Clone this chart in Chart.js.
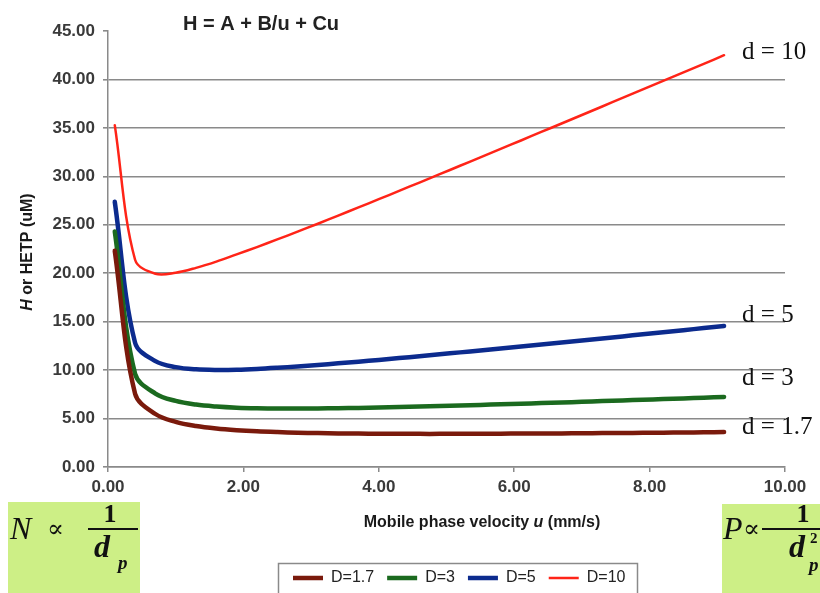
<!DOCTYPE html>
<html><head><meta charset="utf-8">
<script src="https://cdn.jsdelivr.net/npm/chart.js@4.4.0/dist/chart.umd.min.js"></script>
<style>html,body{margin:0;padding:0;background:#fff;}canvas{display:block;}</style>
</head><body>
<canvas id="c" width="820" height="593"></canvas>
<script>
// ---- data ----
const velocity = [0.1,0.4,0.7,1.0,1.3,1.6,1.9,2.2,2.5,2.8,3.1,3.4,3.7,4.0,4.3,4.6,4.9,5.2,5.5,5.8,6.1,6.4,6.7,7.0,7.3,7.6,7.9,8.2,8.5,8.8,9.1];
const seriesNames = ['D=1.7','D=3','D=5','D=10'];
const hD17 = [22.31,7.56,5.47,4.66,4.23,3.97,3.80,3.68,3.60,3.54,3.50,3.47,3.45,3.44,3.43,3.42,3.42,3.43,3.43,3.44,3.45,3.46,3.47,3.48,3.50,3.51,3.53,3.54,3.56,3.58,3.60];
const hD3 = [24.31,9.61,7.58,6.82,6.44,6.24,6.12,6.06,6.04,6.03,6.04,6.07,6.10,6.14,6.19,6.24,6.29,6.35,6.41,6.47,6.53,6.60,6.66,6.73,6.80,6.87,6.94,7.01,7.08,7.15,7.23];
const hD5 = [27.37,12.82,10.93,10.31,10.08,10.02,10.04,10.12,10.24,10.38,10.53,10.70,10.87,11.05,11.24,11.43,11.63,11.83,12.03,12.23,12.44,12.64,12.85,13.06,13.27,13.48,13.70,13.91,14.12,14.34,14.55];
const hD10 = [35.28,21.39,19.95,20.05,20.55,21.20,21.95,22.70,23.49,24.29,25.11,25.95,26.79,27.64,28.50,29.36,30.22,31.09,31.96,32.83,33.70,34.58,35.45,36.33,37.21,38.09,38.97,39.85,40.73,41.61,42.50];
const xTicks = [0,2,4,6,8,10];
const yTicks = [0,5,10,15,20,25,30,35,40,45];
const curveLabels = ['d = 1.7','d = 3','d = 5','d = 10'];
const curveLabelY = [4.1, 9.1, 15.6, 42.8];
const chartTitle = 'H = A + B/u + Cu';

const colors = ['#7a1a0c','#1b6a1f','#0c2b8e','#ff2418'];
const widths = [4.5,4.5,4.5,2.5];
const allSeries = [hD17,hD3,hD5,hD10];

const SANS = '"Liberation Sans", Arial, sans-serif';
const SERIF = '"Liberation Serif", "DejaVu Serif", "Times New Roman", serif';

const decor = {
  id: 'decor',
  beforeDraw(chart) {
    const lg = chart.legend;
    if (lg && !lg._shifted) {
      const pad = lg.options.labels.padding;
      const start = (lg.left + pad + lg.right - lg.lineWidths[0]) / 2;
      const dx = 293 - start;
      lg.left += dx; lg.right += dx;
      lg.top += 3; lg.bottom += 3;
      lg._shifted = true;
    }
  },
  afterDraw(chart) {
    const ctx = chart.ctx;
    const xs = chart.scales.x, ys = chart.scales.y;
    ctx.save();
    // title
    ctx.fillStyle = '#222';
    ctx.font = 'bold 20px ' + SANS;
    ctx.textAlign = 'center'; ctx.textBaseline = 'middle';
    ctx.fillText(chartTitle, 261, 24);

    // x title with italic u
    const parts = [['Mobile phase velocity ', 'bold'], ['u', 'italic bold'], [' (mm/s)', 'bold']];
    drawRich(ctx, parts, 16, 482, 523);

    // y title rotated
    ctx.save();
    ctx.translate(28, 252);
    ctx.rotate(-Math.PI / 2);
    drawRich(ctx, [['H', 'italic bold'], [' or HETP (uM)', 'bold']], 16, 0, 0);
    ctx.restore();

    // curve labels
    ctx.fillStyle = '#111';
    ctx.font = '25px ' + SERIF;
    ctx.textAlign = 'left'; ctx.textBaseline = 'middle';
    const xr = xs.getPixelForValue(velocity[velocity.length - 1]) + 18;
    curveLabels.forEach((t, i) => ctx.fillText(t, xr, ys.getPixelForValue(curveLabelY[i])));

    // legend frame
    ctx.strokeStyle = '#8a8a8a'; ctx.lineWidth = 1.5;
    ctx.strokeRect(278.5, 563.5, 359, 40);

    // formula boxes
    ctx.fillStyle = '#cdef86';
    ctx.fillRect(8, 502, 132, 95);
    ctx.fillRect(722, 504, 100, 95);
    ctx.fillStyle = '#111';
    ctx.textBaseline = 'alphabetic'; ctx.textAlign = 'left';
    // left: N ∝ 1/d_p
    ctx.font = 'italic 32px ' + SERIF; ctx.fillText('N', 10, 539);
    ctx.font = '25px ' + SERIF; ctx.fillText('\u221D', 47, 537);
    ctx.font = 'bold 26px ' + SERIF; ctx.textAlign = 'center'; ctx.fillText('1', 110, 522);
    ctx.fillRect(88, 528, 50, 2);
    ctx.textAlign = 'left';
    ctx.font = 'italic bold 32px ' + SERIF; ctx.fillText('d', 94, 557);
    ctx.font = 'italic bold 19px ' + SERIF; ctx.fillText('p', 118, 569);
    // right: P ∝ 1/d_p^2
    ctx.font = 'italic 32px ' + SERIF; ctx.fillText('P', 723, 539);
    ctx.font = '25px ' + SERIF; ctx.fillText('\u221D', 743, 537);
    ctx.font = 'bold 26px ' + SERIF; ctx.textAlign = 'center'; ctx.fillText('1', 803, 522);
    ctx.fillRect(762, 528, 60, 2);
    ctx.textAlign = 'left';
    ctx.font = 'italic bold 32px ' + SERIF; ctx.fillText('d', 789, 557);
    ctx.font = 'bold 15px ' + SERIF; ctx.fillText('2', 810, 543);
    ctx.font = 'italic bold 19px ' + SERIF; ctx.fillText('p', 809, 571);
    ctx.restore();
  }
};

function drawRich(ctx, parts, size, cx, cy) {
  let total = 0;
  parts.forEach(p => { ctx.font = p[1] + ' ' + size + 'px ' + SANS; total += ctx.measureText(p[0]).width; });
  let x = cx - total / 2;
  ctx.textAlign = 'left'; ctx.textBaseline = 'middle'; ctx.fillStyle = '#1a1a1a';
  parts.forEach(p => { ctx.font = p[1] + ' ' + size + 'px ' + SANS; ctx.fillText(p[0], x, cy); x += ctx.measureText(p[0]).width; });
}

new Chart(document.getElementById('c'), {
  type: 'line',
  data: {
    datasets: allSeries.map((s, i) => ({
      label: seriesNames[i],
      data: velocity.map((u, j) => ({x: u, y: s[j]})),
      borderColor: colors[i],
      backgroundColor: colors[i],
      borderWidth: widths[i],
      borderJoinStyle: 'round',
      borderCapStyle: 'round',
      pointRadius: 0,
      tension: 0.35,
      fill: false
    }))
  },
  options: {
    responsive: false,
    animation: false,
    devicePixelRatio: 1,
    layout: {padding: {top: 31, left: 0, right: 35, bottom: 0}},
    scales: {
      x: {
        type: 'linear', min: 0, max: 10,
        afterBuildTicks: s => { s.ticks = xTicks.map(v => ({value: v})); },
        afterFit: s => { s.height = 87; },
        grid: {display: true, drawOnChartArea: false, drawTicks: true, tickLength: 5, color: '#8a8a8a', lineWidth: 1.5},
        border: {color: '#8a8a8a', width: 1.5},
        ticks: {callback: v => Number(v).toFixed(2), padding: 5, color: '#3a3a3a', font: {family: SANS, size: 17, weight: 'bold'}, maxRotation: 0}
      },
      y: {
        type: 'linear', min: 0, max: 45,
        afterBuildTicks: s => { s.ticks = yTicks.map(v => ({value: v})); },
        afterFit: s => { s.width = 108; },
        grid: {color: c => (c.tick && c.tick.value === 45) ? 'rgba(0,0,0,0)' : '#8a8a8a', tickColor: '#8a8a8a', lineWidth: 1.6, tickLength: 5},
        border: {color: '#8a8a8a', width: 1.5},
        ticks: {callback: v => Number(v).toFixed(2), padding: 8, color: '#3a3a3a', font: {family: SANS, size: 17, weight: 'bold'}}
      }
    },
    plugins: {
      legend: {
        position: 'bottom',
        labels: {
          usePointStyle: true, pointStyle: 'line', pointStyleWidth: 30,
          padding: 13, color: '#222', font: {family: SANS, size: 16}
        }
      },
      tooltip: {enabled: false},
      title: {display: false}
    }
  },
  plugins: [decor]
});
</script>
</body></html>
